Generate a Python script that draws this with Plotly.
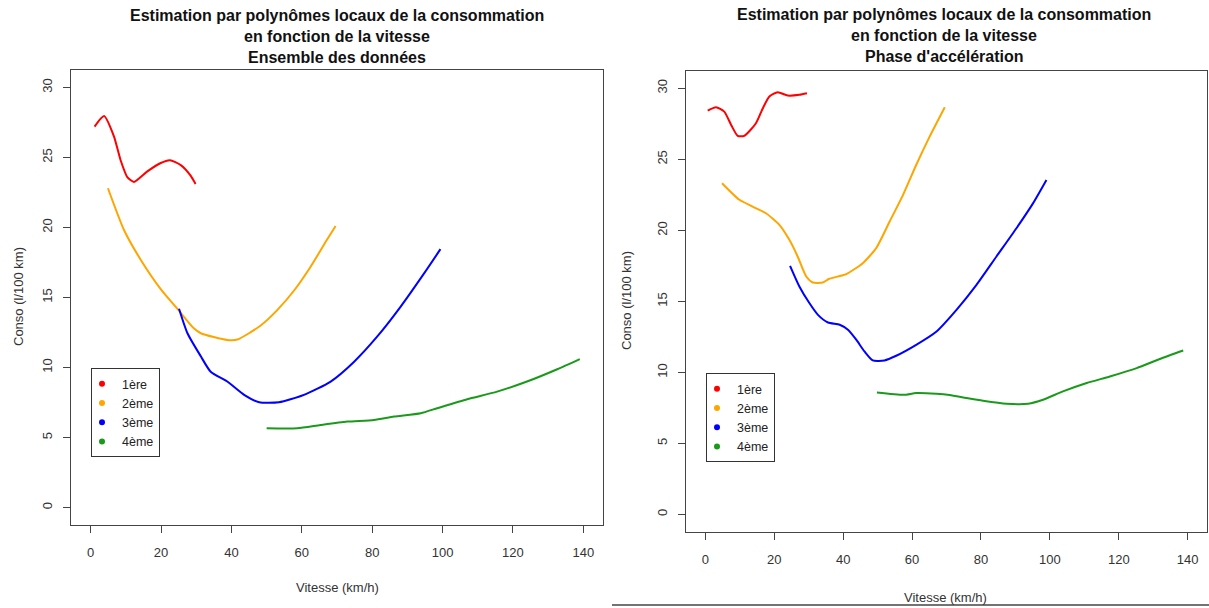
import plotly.graph_objects as go

# ---------------- data ----------------
# Panel 1 : Ensemble des données
all_1_x = [1.1, 3.8, 6.6, 8.5, 10.4, 12.3, 16.1, 19.9, 22.5, 25.6, 28.4, 29.8]
all_1_y = [27.2, 27.95, 26.5, 24.8, 23.6, 23.25, 24.0, 24.6, 24.8, 24.45, 23.7, 23.1]
all_2_x = [4.9, 9.5, 14.2, 19.9, 24.6, 29.3, 31.3, 38.8, 41.7, 48.3, 53.0, 57.8, 62.5, 67.1, 69.6]
all_2_y = [22.8, 19.8, 17.7, 15.6, 14.2, 12.8, 12.45, 11.97, 12.0, 13.0, 14.1, 15.5, 17.2, 19.1, 20.1]
all_3_x = [25.1, 27.5, 31.3, 34.1, 38.8, 43.6, 47.9, 53.5, 60.6, 68.2, 74.8, 81.4, 88.1, 94.7, 99.4]
all_3_y = [14.2, 12.45, 10.8, 9.7, 9.0, 8.05, 7.52, 7.52, 8.05, 9.0, 10.4, 12.2, 14.35, 16.7, 18.45]
all_4_x = [50.0, 58.7, 65.3, 72.9, 80.5, 86.2, 93.8, 98.5, 107.0, 115.5, 124.0, 132.6, 139.0]
all_4_y = [5.67, 5.67, 5.9, 6.14, 6.26, 6.5, 6.74, 7.1, 7.74, 8.28, 9.0, 9.88, 10.6]

# Panel 2 : Phase d'accélération
acc_1_x = [0.7, 3.1, 5.5, 7.5, 9.4, 11.3, 14.7, 16.7, 18.6, 21.0, 23.9, 27.3, 29.5]
acc_1_y = [28.43, 28.67, 28.36, 27.42, 26.65, 26.65, 27.54, 28.6, 29.42, 29.72, 29.49, 29.54, 29.65]
acc_2_x = [4.85, 9.9, 13.75, 17.6, 21.5, 24.4, 26.8, 29.3, 31.2, 34.1, 36.0, 40.9, 45.7, 49.6,
           53.5, 57.4, 61.2, 65.1, 69.5]
acc_2_y = [23.32, 22.15, 21.67, 21.2, 20.39, 19.33, 18.16, 16.75, 16.33, 16.33, 16.59, 16.92, 17.69,
           18.75, 20.62, 22.5, 24.6, 26.6, 28.67]
acc_3_x = [24.6, 27.3, 30.2, 32.7, 35.6, 39.0, 41.4, 43.8, 46.2, 48.6, 52.0, 55.4, 61.2, 67.1,
           72.9, 78.7, 84.5, 90.3, 95.1, 99.0]
acc_3_y = [17.5, 16.05, 14.88, 14.05, 13.51, 13.35, 13.0, 12.3, 11.47, 10.84, 10.84, 11.17, 11.94,
           12.88, 14.4, 16.16, 18.16, 20.15, 21.9, 23.55]
acc_4_x = [49.8, 57.6, 61.2, 67.1, 70.9, 75.8, 80.6, 87.4, 93.7, 98.0, 103.8, 110.7, 117.4, 125.2,
           131.9, 138.7]
acc_4_y = [8.59, 8.42, 8.54, 8.49, 8.4, 8.19, 8.0, 7.79, 7.79, 8.07, 8.66, 9.25, 9.71, 10.3,
           10.94, 11.54]

gear_names = ["1ère", "2ème", "3ème", "4ème"]
gear_colors = ["#FF0000", "#FFA500", "#0000FF", "#1a9a1a"]

x_ticks = [0, 20, 40, 60, 80, 100, 120, 140]
y_ticks = [0, 5, 10, 15, 20, 25, 30]

title_lines_1 = ["Estimation par polynômes locaux de la consommation",
                 "en fonction de la vitesse", "Ensemble des données"]
title_lines_2 = ["Estimation par polynômes locaux de la consommation",
                 "en fonction de la vitesse", "Phase d'accélération"]
x_title = "Vitesse (km/h)"
y_title = "Conso (l/100 km)"

# ---------------- figure ----------------
W, H = 1209, 608
FONT = "Liberation Sans, Arial, sans-serif"

fig = go.Figure()

panels = [
    (list(zip([all_1_x, all_2_x, all_3_x, all_4_x], [all_1_y, all_2_y, all_3_y, all_4_y])), "x", "y", "legend"),
    (list(zip([acc_1_x, acc_2_x, acc_3_x, acc_4_x], [acc_1_y, acc_2_y, acc_3_y, acc_4_y])), "x2", "y2", "legend2"),
]
for series, xa, ya, leg in panels:
    for (xs, ys), name, col in zip(series, gear_names, gear_colors):
        fig.add_trace(go.Scatter(x=xs, y=ys, mode="lines",
                                 line=dict(color=col, width=2, shape="spline", smoothing=0.6),
                                 xaxis=xa, yaxis=ya, showlegend=False, hoverinfo="skip"))
    for name, col in zip(gear_names, gear_colors):
        fig.add_trace(go.Scatter(x=[None], y=[None], mode="markers", name=name,
                                 marker=dict(color=col, size=6), xaxis=xa, yaxis=ya,
                                 legend=leg, showlegend=True))

def px_x(p):
    return p / W

def px_y(p):
    return 1 - p / H

axis_common = dict(showgrid=False, zeroline=False, showline=True, mirror=True,
                   linecolor="#444", linewidth=1, ticks="outside", ticklen=7,
                   tickcolor="#444", tickfont=dict(family=FONT, size=13, color="#333"))

legend_common = dict(xanchor="left", yanchor="top", bordercolor="#333", borderwidth=1,
                     bgcolor="white", font=dict(family=FONT, size=12.5, color="#222"),
                     tracegroupgap=0, indentation=-10, itemwidth=30)

fig.update_layout(
    width=W, height=H, margin=dict(l=0, r=0, t=0, b=0),
    paper_bgcolor="white", plot_bgcolor="white",
    font=dict(family=FONT, color="#222"),
    xaxis=dict(domain=[px_x(71), px_x(603)], range=[-5.6, 145.6], tickvals=x_ticks,
               anchor="y", ticklabelstandoff=8, **axis_common),
    yaxis=dict(domain=[px_y(525), px_y(70)], range=[-1.24, 31.24], tickvals=y_ticks,
               anchor="x", tickangle=-90, ticklabelstandoff=6, **axis_common),
    xaxis2=dict(domain=[px_x(686), px_x(1207)], range=[-5.6, 145.6], tickvals=x_ticks,
                anchor="y2", ticklabelstandoff=8, **axis_common),
    yaxis2=dict(domain=[px_y(532), px_y(70.7)], range=[-1.24, 31.24], tickvals=y_ticks,
                anchor="x2", tickangle=-90, ticklabelstandoff=6, **axis_common),
    legend=dict(x=px_x(91), y=px_y(368), **legend_common),
    legend2=dict(x=px_x(706), y=px_y(373), **legend_common),
    showlegend=True,
)

annotations = []
for lines, cx, ys in [(title_lines_1, 337, [15, 36, 57]), (title_lines_2, 944, [14.5, 35.5, 56.5])]:
    for txt, yy in zip(lines, ys):
        annotations.append(dict(text="<b>%s</b>" % txt, x=px_x(cx), y=px_y(yy), xref="paper", yref="paper",
                                xanchor="center", yanchor="middle", showarrow=False,
                                font=dict(family=FONT, size=16, color="#111")))
for cx, cy in [(337, 587), (946, 597)]:
    annotations.append(dict(text=x_title, x=px_x(cx), y=px_y(cy), xref="paper", yref="paper",
                            xanchor="center", yanchor="middle", showarrow=False,
                            font=dict(family=FONT, size=13, color="#333")))
for cx, cy in [(18, 297), (626, 301)]:
    annotations.append(dict(text=y_title, x=px_x(cx), y=px_y(cy), xref="paper", yref="paper",
                            xanchor="center", yanchor="middle", showarrow=False, textangle=-90,
                            font=dict(family=FONT, size=13, color="#333")))
fig.update_layout(annotations=annotations)

# thin separator line at the bottom of the right panel (as in the reference)
fig.add_shape(type="line", xref="paper", yref="paper", x0=px_x(612), x1=1, y0=px_y(605), y1=px_y(605),
              line=dict(color="#444", width=1.5))

fig.write_html("out.html", config={"displayModeBar": False},
               post_script="document.body.style.margin='0';document.body.style.overflow='hidden';")
